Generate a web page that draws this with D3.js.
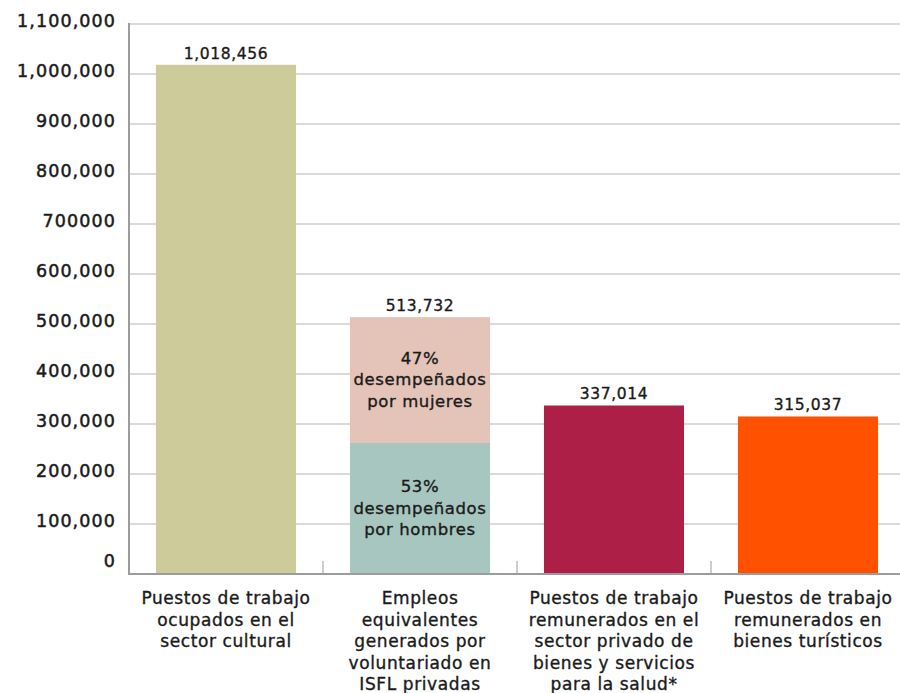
<!DOCTYPE html>
<html>
<head>
<meta charset="utf-8">
<script src="https://cdn.jsdelivr.net/npm/d3@7"></script>
<style>
  body { margin: 0; background: #fff; }
  svg text { font-family: "DejaVu Sans", sans-serif; fill: #1a1a1a; stroke: #1a1a1a; stroke-width: 0.35px; }
</style>
</head>
<body>
<div class="chart"></div>
<script>
/**
 * Chart data
 */
var categories = [
    ["Puestos de trabajo", "ocupados en el", "sector cultural"],
    ["Empleos", "equivalentes", "generados por", "voluntariado en", "ISFL privadas"],
    ["Puestos de trabajo", "remunerados en el", "sector privado de", "bienes y servicios", "para la salud*"],
    ["Puestos de trabajo", "remunerados en", "bienes turísticos"]
];
var totals = [1018456, 513732, 337014, 315037];
// second bar split (men at the bottom, women on top)
var menValue = 262000;
var womenValue = 251732;
var menLabel = ["53%", "desempeñados", "por hombres"];
var womenLabel = ["47%", "desempeñados", "por mujeres"];
var tickValues = [0, 100000, 200000, 300000, 400000, 500000, 600000, 700000, 800000, 900000, 1000000, 1100000];
var tickLabels = ["0", "100,000", "200,000", "300,000", "400,000", "500,000", "600,000", "700000", "800,000", "900,000", "1,000,000", "1,100,000"];
var colors = ["#cdcb99", null, "#ad1f47", "#ff5100"];
var womenColor = "#e4c4b8";
var menColor = "#a7c6bf";

var width = 900;
var height = 693;
var plotLeft = 129, plotRight = 905, plotTop = 24, plotBottom = 574;

var svg = d3.select(".chart").append("svg")
    .attr("width", width)
    .attr("height", height);

var x = d3.scaleBand()
    .domain(d3.range(categories.length))
    .range([plotLeft, plotRight])
    .paddingInner(0.278)
    .paddingOuter(0.139);

var y = d3.scaleLinear()
    .domain([0, 1100000])
    .range([plotBottom, plotTop]);

var gap = x.step() * x.paddingOuter();

/**
 * Gridlines
 */
svg.append("g").selectAll("line")
    .data(tickValues.filter(function(d) { return d > 0; }))
    .enter().append("line")
    .attr("x1", plotLeft)
    .attr("x2", width)
    .attr("y1", function(d) { return y(d); })
    .attr("y2", function(d) { return y(d); })
    .style("stroke", "#b5b5b5")
    .style("stroke-width", 1.2);

// Y tick labels
svg.append("g").selectAll("text")
    .data(tickValues)
    .enter().append("text")
    .attr("x", 116)
    .attr("y", function(d) { return d === 0 ? y(d) - 7 : y(d) + 3; })
    .attr("text-anchor", "end")
    .style("font-size", "17.5px")
    .style("letter-spacing", "1.1px")
    .style("stroke-width", "0.5px")
    .text(function(d, i) { return tickLabels[i]; });

/**
 * Bars
 */
var bars = svg.append("g");
totals.forEach(function(v, i) {
    if (i === 1) {
        bars.append("rect")
            .attr("x", x(i))
            .attr("width", x.bandwidth())
            .attr("y", y(menValue))
            .attr("height", y(0) - y(menValue))
            .style("fill", menColor);
        bars.append("rect")
            .attr("x", x(i))
            .attr("width", x.bandwidth())
            .attr("y", y(menValue + womenValue))
            .attr("height", y(menValue) - y(menValue + womenValue))
            .style("fill", womenColor);
    } else {
        bars.append("rect")
            .attr("x", x(i))
            .attr("width", x.bandwidth())
            .attr("y", y(v))
            .attr("height", y(0) - y(v))
            .style("fill", colors[i]);
    }
    // value label
    bars.append("text")
        .attr("x", x(i) + x.bandwidth() / 2)
        .attr("y", y(v) - 6)
        .attr("text-anchor", "middle")
        .style("font-size", "15.5px")
        .style("letter-spacing", "0.6px")
        .text(d3.format(",")(v));
});

// Labels inside the split bar
function innerLabel(lines, yMid) {
    var t = svg.append("text")
        .attr("text-anchor", "middle")
        .style("font-size", "16.5px")
        .style("letter-spacing", "0.6px");
    lines.forEach(function(l, k) {
        t.append("tspan")
            .attr("x", x(1) + x.bandwidth() / 2)
            .attr("y", yMid + (k - 1) * 21.5 + 5)
            .text(l);
    });
}
innerLabel(womenLabel, (y(menValue) + y(menValue + womenValue)) / 2);
innerLabel(menLabel, (y(0) + y(menValue)) / 2);

/**
 * Axes
 */
svg.append("line")
    .attr("x1", plotLeft).attr("x2", plotLeft)
    .attr("y1", plotTop - 1).attr("y2", plotBottom + 1)
    .style("stroke", "#9c9c9c")
    .style("stroke-width", 2);

svg.append("line")
    .attr("x1", plotLeft - 1).attr("x2", width)
    .attr("y1", plotBottom).attr("y2", plotBottom)
    .style("stroke", "#9c9c9c")
    .style("stroke-width", 2);

// category separators
svg.append("g").selectAll("line")
    .data(d3.range(1, categories.length))
    .enter().append("line")
    .attr("x1", function(d) { return x(d) - gap; })
    .attr("x2", function(d) { return x(d) - gap; })
    .attr("y1", plotBottom - 13)
    .attr("y2", plotBottom)
    .style("stroke", "#9c9c9c")
    .style("stroke-width", 1);

// category labels
categories.forEach(function(lines, i) {
    var t = svg.append("text")
        .attr("text-anchor", "middle")
        .style("font-size", "17px")
        .style("letter-spacing", "0.6px");
    lines.forEach(function(l, k) {
        t.append("tspan")
            .attr("x", x(i) + x.bandwidth() / 2)
            .attr("y", 604 + k * 21.6)
            .text(l);
    });
});
</script>
</body>
</html>
